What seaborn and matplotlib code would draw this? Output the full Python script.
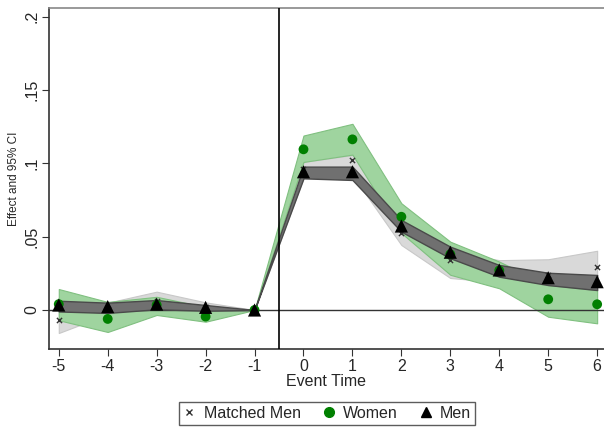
import matplotlib
matplotlib.use("Agg")
import matplotlib.pyplot as plt
import seaborn as sns
import pandas as pd
from matplotlib.lines import Line2D

# event-study estimates
event_time = [-5, -4, -3, -2, -1, 0, 1, 2, 3, 4, 5, 6]

men = [0.0034, 0.0023, 0.0040, 0.0018, 0.0, 0.0943, 0.0943, 0.0573, 0.0394, 0.0273, 0.0220, 0.0193]
men_lo = [-0.0010, -0.0020, 0.0005, -0.0005, 0.0, 0.0898, 0.0887, 0.0534, 0.0353, 0.0227, 0.0170, 0.0136]
men_hi = [0.0063, 0.0050, 0.0068, 0.0034, 0.0, 0.0978, 0.0978, 0.0614, 0.0432, 0.0307, 0.0254, 0.0239]

women = [0.0040, -0.0061, 0.0034, -0.0045, 0.0, 0.1096, 0.1164, 0.0636, 0.0380, 0.0270, 0.0073, 0.0039]
women_lo = [-0.0070, -0.0150, -0.0034, -0.0080, 0.0, 0.1010, 0.1060, 0.0525, 0.0240, 0.0148, -0.0046, -0.0091]
women_hi = [0.0143, 0.0055, 0.0090, 0.0020, 0.0, 0.1190, 0.1270, 0.0728, 0.0466, 0.0330, 0.0170, 0.0136]

matched = [-0.0068, 0.0010, 0.0060, 0.0020, 0.0, 0.0960, 0.1023, 0.0525, 0.0340, 0.0270, 0.0240, 0.0295]
matched_lo = [-0.0157, -0.0030, 0.0000, -0.0010, 0.0, 0.0900, 0.0920, 0.0443, 0.0218, 0.0190, 0.0160, 0.0180]
matched_hi = [0.0060, 0.0050, 0.0125, 0.0052, 0.0, 0.1010, 0.1057, 0.0620, 0.0400, 0.0340, 0.0346, 0.0404]

y_ticks = [0, 0.05, 0.1, 0.15, 0.2]
y_labels = ["0", ".05", ".1", ".15", ".2"]

df = pd.DataFrame({"t": event_time, "men": men, "women": women, "matched": matched})

sns.set_style("white")
plt.rcParams["font.family"] = ["Liberation Sans", "DejaVu Sans"]

fig = plt.figure(figsize=(6.04, 4.30), dpi=100)
ax = fig.add_axes([0.0811, 0.1884, 0.9189, 0.793])

# confidence bands
ax.fill_between(event_time, matched_lo, matched_hi, color="#d9d9d9", lw=0.8,
                edgecolor="#c8c8c8", zorder=1)
ax.fill_between(event_time, women_lo, women_hi, color="#9fd49f", lw=0.8,
                edgecolor="#80c080", zorder=2)
ax.fill_between(event_time, men_lo, men_hi, color="#707070", lw=1.0,
                edgecolor="#4a4a4a", zorder=3)

ax.axhline(0, color="#333333", lw=1.0, zorder=2.5)
ax.axvline(-0.5, color="black", lw=1.2, zorder=4)

sns.scatterplot(data=df, x="t", y="matched", marker="x", s=14, color="#333333",
                linewidth=1.0, ax=ax, zorder=5)
sns.scatterplot(data=df, x="t", y="women", marker="o", s=50, color="#008000",
                edgecolor="none", ax=ax, zorder=6)
sns.scatterplot(data=df, x="t", y="men", marker="^", s=90, color="black",
                edgecolor="none", ax=ax, zorder=7)

ax.set_xlim(-5.2, 6.14)
ax.set_ylim(-0.0266, 0.206)
ax.set_xticks(event_time)
ax.set_xticklabels([str(t) for t in event_time], fontsize=11.5)
ax.set_yticks(y_ticks)
ax.set_yticklabels(y_labels, fontsize=11.5, rotation=90, va="center")
ax.tick_params(axis="both", direction="out", length=5, width=0.8, color="#333333",
               bottom=True, left=True, pad=2)
ax.set_xlabel("Event Time", fontsize=11.5, labelpad=0)
ax.set_ylabel("Effect and 95% CI", fontsize=8.5, labelpad=3)

for side in ["left", "bottom"]:
    ax.spines[side].set_color("#333333")
    ax.spines[side].set_linewidth(1.2)
ax.spines["top"].set_color("#888888")
ax.spines["top"].set_linewidth(1.2)
ax.spines["right"].set_visible(False)

handles = [
    Line2D([], [], marker="x", ls="none", color="#333333", markersize=4, mew=1.0),
    Line2D([], [], marker="o", ls="none", color="#008000", markersize=7),
    Line2D([], [], marker="^", ls="none", color="black", markersize=7),
]
leg = fig.legend(handles, ["Matched Men", "Women", "Men"], loc="upper center",
                 bbox_to_anchor=(0.5415, 0.065), borderaxespad=0, ncol=3,
                 fontsize=11.5, frameon=True, fancybox=False,
                 handletextpad=0.5, columnspacing=1.35, handlelength=0.8,
                 borderpad=0.25)
leg.get_frame().set_edgecolor("#333333")
leg.get_frame().set_linewidth(1.0)

fig.savefig("out.png", dpi=100)
